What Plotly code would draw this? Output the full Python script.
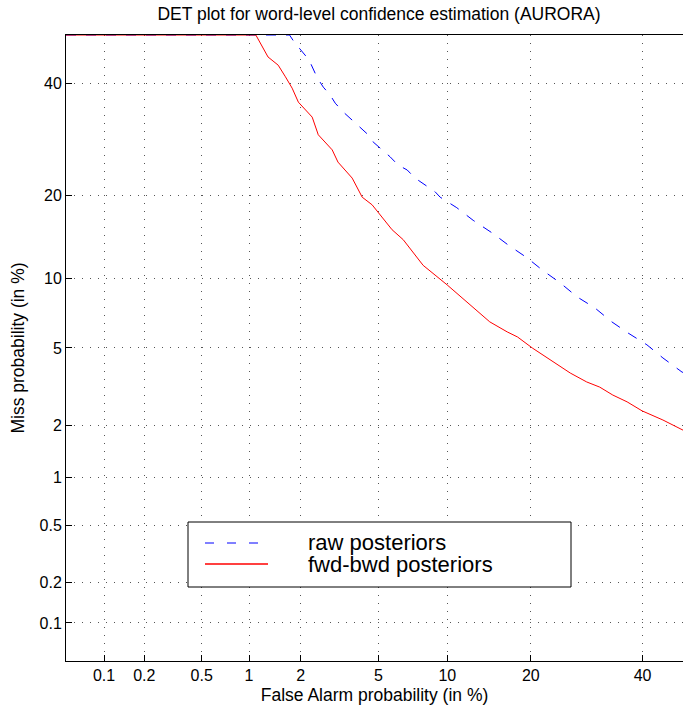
import plotly.graph_objects as go
from statistics import NormalDist

# ---------------- data (percent) ----------------
series_names = ["raw posteriors", "fwd-bwd posteriors"]

raw_fa = [0.05, 1.73, 1.84, 2.22, 2.46, 2.65, 2.88, 3.06, 3.36, 4.09, 4.47, 4.72, 5.27,
          5.67, 6.17, 6.77, 7.33, 7.94, 8.91, 9.35, 10.9, 12.6, 14.8, 16.8, 19.4, 21.8,
          24.6, 27.5, 30.7, 33.9, 37.1, 40.9, 44.2, 48.2, 50.0]
raw_miss = [50.0, 50.0, 48.5, 44.8, 41.1, 39.2, 37.6, 36.0, 34.3, 31.4, 30.0, 28.7, 27.1,
            26.1, 24.7, 23.9, 22.6, 21.7, 20.5, 19.7, 18.2, 16.5, 14.9, 13.5, 12.1, 10.8,
            9.63, 8.43, 7.57, 6.58, 5.86, 5.17, 4.48, 3.82, 3.70]

fb_fa = [0.05, 1.10, 1.30, 1.49, 1.64, 1.79, 1.94, 2.12, 2.31, 2.49, 2.95, 3.16, 3.73,
         4.18, 4.67, 5.56, 5.79, 6.50, 7.94, 9.98, 12.6, 14.5, 16.7, 18.1, 20.2, 21.8,
         24.1, 26.3, 29.2, 31.6, 34.1, 36.9, 39.9, 44.2, 48.4, 50.0]
fb_miss = [50.0, 50.0, 45.4, 43.7, 41.3, 39.0, 36.2, 34.7, 33.3, 30.0, 27.3, 25.2, 22.6,
           19.7, 18.6, 15.9, 15.3, 14.1, 11.3, 9.45, 7.57, 6.58, 5.93, 5.62, 5.0, 4.63,
           4.14, 3.78, 3.41, 3.21, 2.92, 2.69, 2.41, 2.15, 1.89, 1.85]

tick_pct = [0.1, 0.2, 0.5, 1, 2, 5, 10, 20, 40]
tick_labels = ["0.1", "0.2", "0.5", "1", "2", "5", "10", "20", "40"]

axis_min_pct = 0.05
x_max_pct = 48.4
y_max_pct = 50.0

# ---------------- helpers ----------------
nd = NormalDist()


def ppnd(pcts):
    return [nd.inv_cdf(p / 100.0) for p in pcts]


FONT = "Liberation Sans, Arial, Helvetica, sans-serif"

fig = go.Figure()
fig.add_trace(go.Scatter(x=ppnd(raw_fa), y=ppnd(raw_miss), mode="lines",
                         name=series_names[0],
                         line=dict(color="#0000ff", width=1, dash="10px,10px"),
                         showlegend=False))
fig.add_trace(go.Scatter(x=ppnd(fb_fa), y=ppnd(fb_miss), mode="lines",
                         name=series_names[1],
                         line=dict(color="#ff0000", width=1),
                         showlegend=False))

axis_common = dict(
    tickvals=ppnd(tick_pct), ticktext=tick_labels,
    showline=True, linecolor="black", linewidth=1, mirror=True,
    ticks="inside", ticklen=6, tickcolor="black", tickwidth=1,
    showgrid=True, gridcolor="#555555", gridwidth=1, griddash="1px,7px",
    zeroline=False, layer="below traces",
    tickfont=dict(family=FONT, size=16, color="black"),
)

fig.update_xaxes(range=[nd.inv_cdf(axis_min_pct / 100), nd.inv_cdf(x_max_pct / 100)],
                 title=dict(text="False Alarm probability (in %)",
                            font=dict(family=FONT, size=17.5, color="black"), standoff=5),
                 **axis_common)
fig.update_yaxes(range=[nd.inv_cdf(axis_min_pct / 100), nd.inv_cdf(y_max_pct / 100)],
                 title=dict(text="Miss probability (in %)",
                            font=dict(family=FONT, size=17.5, color="black"), standoff=10),
                 **axis_common)

# ---------------- layout geometry ----------------
W, H = 683, 709
ml, mr, mt, mb = 66, 0, 35, 48
pw, ph = W - ml - mr, H - mt - mb


def px(xp):  # window pixel -> paper x
    return (xp - ml) / pw


def py(yp):  # window pixel -> paper y
    return (H - mb - yp) / ph


# ---------------- legend (drawn as layout items) ----------------
shapes = [
    dict(type="rect", xref="paper", yref="paper", x0=px(188), x1=px(571), y0=py(587), y1=py(522),
         line=dict(color="black", width=1), fillcolor="white", layer="above"),
    dict(type="line", xref="paper", yref="paper", x0=px(205), x1=px(258), y0=py(543), y1=py(543),
         line=dict(color="#0000ff", width=1, dash="9px,13px"), layer="above"),
    dict(type="line", xref="paper", yref="paper", x0=px(205), x1=px(268), y0=py(564), y1=py(564),
         line=dict(color="#ff0000", width=1.5), layer="above"),
]
annotations = [
    dict(text=series_names[0], xref="paper", yref="paper", x=px(306), y=py(542),
         xanchor="left", yanchor="middle", showarrow=False,
         font=dict(family=FONT, size=22, color="black")),
    dict(text=series_names[1], xref="paper", yref="paper", x=px(306), y=py(564),
         xanchor="left", yanchor="middle", showarrow=False,
         font=dict(family=FONT, size=22, color="black")),
]

fig.update_layout(
    width=W, height=H,
    margin=dict(l=ml, r=mr, t=mt, b=mb, pad=0),
    paper_bgcolor="white", plot_bgcolor="white",
    title=dict(text="DET plot for word-level confidence estimation (AURORA)",
               x=px(379), xref="paper", xanchor="center",
               y=1 - 14 / H, yref="container", yanchor="middle",
               font=dict(family=FONT, size=17.5, color="black")),
    shapes=shapes, annotations=annotations,
    showlegend=False,
)

# remove the browser's default 8px page margin so the figure fills the window exactly
fig.write_html("out.html", config={"displayModeBar": False},
               post_script="document.body.style.margin='0px';")
